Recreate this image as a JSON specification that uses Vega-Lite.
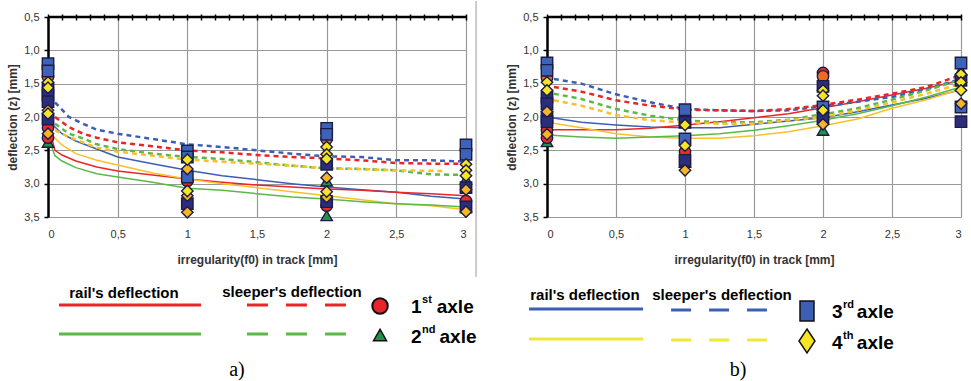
{
"$schema": "https://vega.github.io/schema/vega-lite/v6.json",
"background": "white",
"padding": {"left": 6, "top": 0, "right": 0, "bottom": 0},
"config": {"view": {"stroke": null}, "font": "Liberation Sans"},
"bounds": "flush",
"spacing": 81,
"datasets": {
"lines": [
{"p":"a","t":"rail","ax":"3","x":0,"y":2.05},{"p":"a","t":"rail","ax":"3","x":0.05,"y":2.15},{"p":"a","t":"rail","ax":"3","x":0.1,"y":2.25},{"p":"a","t":"rail","ax":"3","x":0.2,"y":2.36},{"p":"a","t":"rail","ax":"3","x":0.35,"y":2.48},{"p":"a","t":"rail","ax":"3","x":0.5,"y":2.6},{"p":"a","t":"rail","ax":"3","x":0.75,"y":2.7},{"p":"a","t":"rail","ax":"3","x":1,"y":2.8},{"p":"a","t":"rail","ax":"3","x":1.25,"y":2.88},{"p":"a","t":"rail","ax":"3","x":1.5,"y":2.94},{"p":"a","t":"rail","ax":"3","x":1.75,"y":3.0},{"p":"a","t":"rail","ax":"3","x":2,"y":3.05},{"p":"a","t":"rail","ax":"3","x":2.25,"y":3.09},{"p":"a","t":"rail","ax":"3","x":2.5,"y":3.13},{"p":"a","t":"rail","ax":"3","x":2.75,"y":3.19},{"p":"a","t":"rail","ax":"3","x":3,"y":3.23},
{"p":"a","t":"rail","ax":"1","x":0,"y":2.1},{"p":"a","t":"rail","ax":"1","x":0.05,"y":2.5},{"p":"a","t":"rail","ax":"1","x":0.1,"y":2.57},{"p":"a","t":"rail","ax":"1","x":0.2,"y":2.66},{"p":"a","t":"rail","ax":"1","x":0.35,"y":2.75},{"p":"a","t":"rail","ax":"1","x":0.5,"y":2.81},{"p":"a","t":"rail","ax":"1","x":0.75,"y":2.87},{"p":"a","t":"rail","ax":"1","x":1,"y":2.93},{"p":"a","t":"rail","ax":"1","x":1.25,"y":2.98},{"p":"a","t":"rail","ax":"1","x":1.5,"y":3.02},{"p":"a","t":"rail","ax":"1","x":1.75,"y":3.05},{"p":"a","t":"rail","ax":"1","x":2,"y":3.08},{"p":"a","t":"rail","ax":"1","x":2.25,"y":3.1},{"p":"a","t":"rail","ax":"1","x":2.5,"y":3.13},{"p":"a","t":"rail","ax":"1","x":2.75,"y":3.15},{"p":"a","t":"rail","ax":"1","x":3,"y":3.18},
{"p":"a","t":"rail","ax":"4","x":0,"y":2.2},{"p":"a","t":"rail","ax":"4","x":0.05,"y":2.32},{"p":"a","t":"rail","ax":"4","x":0.1,"y":2.42},{"p":"a","t":"rail","ax":"4","x":0.2,"y":2.55},{"p":"a","t":"rail","ax":"4","x":0.35,"y":2.65},{"p":"a","t":"rail","ax":"4","x":0.5,"y":2.72},{"p":"a","t":"rail","ax":"4","x":0.75,"y":2.84},{"p":"a","t":"rail","ax":"4","x":1,"y":2.93},{"p":"a","t":"rail","ax":"4","x":1.25,"y":3.0},{"p":"a","t":"rail","ax":"4","x":1.5,"y":3.06},{"p":"a","t":"rail","ax":"4","x":1.75,"y":3.12},{"p":"a","t":"rail","ax":"4","x":2,"y":3.18},{"p":"a","t":"rail","ax":"4","x":2.25,"y":3.24},{"p":"a","t":"rail","ax":"4","x":2.5,"y":3.3},{"p":"a","t":"rail","ax":"4","x":2.75,"y":3.33},{"p":"a","t":"rail","ax":"4","x":3,"y":3.39},
{"p":"a","t":"rail","ax":"2","x":0,"y":2.3},{"p":"a","t":"rail","ax":"2","x":0.05,"y":2.58},{"p":"a","t":"rail","ax":"2","x":0.1,"y":2.66},{"p":"a","t":"rail","ax":"2","x":0.2,"y":2.76},{"p":"a","t":"rail","ax":"2","x":0.35,"y":2.85},{"p":"a","t":"rail","ax":"2","x":0.5,"y":2.9},{"p":"a","t":"rail","ax":"2","x":0.75,"y":2.98},{"p":"a","t":"rail","ax":"2","x":1,"y":3.07},{"p":"a","t":"rail","ax":"2","x":1.25,"y":3.1},{"p":"a","t":"rail","ax":"2","x":1.5,"y":3.15},{"p":"a","t":"rail","ax":"2","x":1.75,"y":3.2},{"p":"a","t":"rail","ax":"2","x":2,"y":3.23},{"p":"a","t":"rail","ax":"2","x":2.25,"y":3.27},{"p":"a","t":"rail","ax":"2","x":2.5,"y":3.3},{"p":"a","t":"rail","ax":"2","x":2.75,"y":3.32},{"p":"a","t":"rail","ax":"2","x":3,"y":3.35},
{"p":"a","t":"sleeper","ax":"3","x":0.05,"y":1.78},{"p":"a","t":"sleeper","ax":"3","x":0.15,"y":2.0},{"p":"a","t":"sleeper","ax":"3","x":0.25,"y":2.1},{"p":"a","t":"sleeper","ax":"3","x":0.35,"y":2.19},{"p":"a","t":"sleeper","ax":"3","x":0.5,"y":2.25},{"p":"a","t":"sleeper","ax":"3","x":0.75,"y":2.33},{"p":"a","t":"sleeper","ax":"3","x":1,"y":2.41},{"p":"a","t":"sleeper","ax":"3","x":1.25,"y":2.45},{"p":"a","t":"sleeper","ax":"3","x":1.5,"y":2.5},{"p":"a","t":"sleeper","ax":"3","x":1.75,"y":2.55},{"p":"a","t":"sleeper","ax":"3","x":2,"y":2.59},{"p":"a","t":"sleeper","ax":"3","x":2.25,"y":2.6},{"p":"a","t":"sleeper","ax":"3","x":2.5,"y":2.65},{"p":"a","t":"sleeper","ax":"3","x":2.75,"y":2.65},{"p":"a","t":"sleeper","ax":"3","x":3,"y":2.67},
{"p":"a","t":"sleeper","ax":"1","x":0.05,"y":2.0},{"p":"a","t":"sleeper","ax":"1","x":0.15,"y":2.15},{"p":"a","t":"sleeper","ax":"1","x":0.25,"y":2.25},{"p":"a","t":"sleeper","ax":"1","x":0.35,"y":2.31},{"p":"a","t":"sleeper","ax":"1","x":0.5,"y":2.38},{"p":"a","t":"sleeper","ax":"1","x":0.75,"y":2.44},{"p":"a","t":"sleeper","ax":"1","x":1,"y":2.5},{"p":"a","t":"sleeper","ax":"1","x":1.25,"y":2.53},{"p":"a","t":"sleeper","ax":"1","x":1.5,"y":2.57},{"p":"a","t":"sleeper","ax":"1","x":1.75,"y":2.6},{"p":"a","t":"sleeper","ax":"1","x":2,"y":2.62},{"p":"a","t":"sleeper","ax":"1","x":2.25,"y":2.65},{"p":"a","t":"sleeper","ax":"1","x":2.5,"y":2.69},{"p":"a","t":"sleeper","ax":"1","x":2.75,"y":2.7},{"p":"a","t":"sleeper","ax":"1","x":3,"y":2.7},
{"p":"a","t":"sleeper","ax":"2","x":0.05,"y":2.1},{"p":"a","t":"sleeper","ax":"2","x":0.15,"y":2.25},{"p":"a","t":"sleeper","ax":"2","x":0.25,"y":2.32},{"p":"a","t":"sleeper","ax":"2","x":0.35,"y":2.41},{"p":"a","t":"sleeper","ax":"2","x":0.5,"y":2.48},{"p":"a","t":"sleeper","ax":"2","x":0.75,"y":2.55},{"p":"a","t":"sleeper","ax":"2","x":1,"y":2.6},{"p":"a","t":"sleeper","ax":"2","x":1.25,"y":2.63},{"p":"a","t":"sleeper","ax":"2","x":1.5,"y":2.68},{"p":"a","t":"sleeper","ax":"2","x":1.75,"y":2.73},{"p":"a","t":"sleeper","ax":"2","x":2,"y":2.77},{"p":"a","t":"sleeper","ax":"2","x":2.25,"y":2.78},{"p":"a","t":"sleeper","ax":"2","x":2.5,"y":2.8},{"p":"a","t":"sleeper","ax":"2","x":2.75,"y":2.86},{"p":"a","t":"sleeper","ax":"2","x":3,"y":2.87},
{"p":"a","t":"sleeper","ax":"4","x":0.05,"y":2.2},{"p":"a","t":"sleeper","ax":"4","x":0.15,"y":2.3},{"p":"a","t":"sleeper","ax":"4","x":0.25,"y":2.38},{"p":"a","t":"sleeper","ax":"4","x":0.35,"y":2.46},{"p":"a","t":"sleeper","ax":"4","x":0.5,"y":2.52},{"p":"a","t":"sleeper","ax":"4","x":0.75,"y":2.58},{"p":"a","t":"sleeper","ax":"4","x":1,"y":2.64},{"p":"a","t":"sleeper","ax":"4","x":1.25,"y":2.67},{"p":"a","t":"sleeper","ax":"4","x":1.5,"y":2.7},{"p":"a","t":"sleeper","ax":"4","x":1.75,"y":2.73},{"p":"a","t":"sleeper","ax":"4","x":2,"y":2.77},{"p":"a","t":"sleeper","ax":"4","x":2.25,"y":2.78},{"p":"a","t":"sleeper","ax":"4","x":2.5,"y":2.8},{"p":"a","t":"sleeper","ax":"4","x":2.85,"y":2.81},
{"p":"b","t":"rail","ax":"3","x":0,"y":2.0},{"p":"b","t":"rail","ax":"3","x":0.25,"y":2.08},{"p":"b","t":"rail","ax":"3","x":0.5,"y":2.12},{"p":"b","t":"rail","ax":"3","x":0.75,"y":2.15},{"p":"b","t":"rail","ax":"3","x":1,"y":2.16},{"p":"b","t":"rail","ax":"3","x":1.25,"y":2.16},{"p":"b","t":"rail","ax":"3","x":1.5,"y":2.11},{"p":"b","t":"rail","ax":"3","x":1.75,"y":2.06},{"p":"b","t":"rail","ax":"3","x":2,"y":2.01},{"p":"b","t":"rail","ax":"3","x":2.25,"y":1.92},{"p":"b","t":"rail","ax":"3","x":2.5,"y":1.82},{"p":"b","t":"rail","ax":"3","x":2.75,"y":1.72},{"p":"b","t":"rail","ax":"3","x":3,"y":1.59},
{"p":"b","t":"rail","ax":"1","x":0,"y":2.19},{"p":"b","t":"rail","ax":"1","x":0.25,"y":2.19},{"p":"b","t":"rail","ax":"1","x":0.5,"y":2.19},{"p":"b","t":"rail","ax":"1","x":0.75,"y":2.17},{"p":"b","t":"rail","ax":"1","x":1,"y":2.12},{"p":"b","t":"rail","ax":"1","x":1.25,"y":2.07},{"p":"b","t":"rail","ax":"1","x":1.5,"y":2.01},{"p":"b","t":"rail","ax":"1","x":1.75,"y":1.95},{"p":"b","t":"rail","ax":"1","x":2,"y":1.86},{"p":"b","t":"rail","ax":"1","x":2.25,"y":1.77},{"p":"b","t":"rail","ax":"1","x":2.5,"y":1.67},{"p":"b","t":"rail","ax":"1","x":2.75,"y":1.57},{"p":"b","t":"rail","ax":"1","x":3,"y":1.45},
{"p":"b","t":"rail","ax":"4","x":0,"y":2.08},{"p":"b","t":"rail","ax":"4","x":0.25,"y":2.16},{"p":"b","t":"rail","ax":"4","x":0.5,"y":2.25},{"p":"b","t":"rail","ax":"4","x":0.75,"y":2.3},{"p":"b","t":"rail","ax":"4","x":1,"y":2.32},{"p":"b","t":"rail","ax":"4","x":1.25,"y":2.32},{"p":"b","t":"rail","ax":"4","x":1.5,"y":2.28},{"p":"b","t":"rail","ax":"4","x":1.75,"y":2.22},{"p":"b","t":"rail","ax":"4","x":2,"y":2.13},{"p":"b","t":"rail","ax":"4","x":2.25,"y":2.03},{"p":"b","t":"rail","ax":"4","x":2.5,"y":1.87},{"p":"b","t":"rail","ax":"4","x":2.75,"y":1.74},{"p":"b","t":"rail","ax":"4","x":3,"y":1.58},
{"p":"b","t":"rail","ax":"2","x":0,"y":2.27},{"p":"b","t":"rail","ax":"2","x":0.25,"y":2.3},{"p":"b","t":"rail","ax":"2","x":0.5,"y":2.32},{"p":"b","t":"rail","ax":"2","x":0.75,"y":2.3},{"p":"b","t":"rail","ax":"2","x":1,"y":2.28},{"p":"b","t":"rail","ax":"2","x":1.25,"y":2.25},{"p":"b","t":"rail","ax":"2","x":1.5,"y":2.2},{"p":"b","t":"rail","ax":"2","x":1.75,"y":2.13},{"p":"b","t":"rail","ax":"2","x":2,"y":2.05},{"p":"b","t":"rail","ax":"2","x":2.25,"y":1.95},{"p":"b","t":"rail","ax":"2","x":2.5,"y":1.83},{"p":"b","t":"rail","ax":"2","x":2.75,"y":1.7},{"p":"b","t":"rail","ax":"2","x":3,"y":1.55},
{"p":"b","t":"sleeper","ax":"3","x":0.05,"y":1.43},{"p":"b","t":"sleeper","ax":"3","x":0.25,"y":1.5},{"p":"b","t":"sleeper","ax":"3","x":0.5,"y":1.66},{"p":"b","t":"sleeper","ax":"3","x":0.75,"y":1.78},{"p":"b","t":"sleeper","ax":"3","x":1,"y":1.88},{"p":"b","t":"sleeper","ax":"3","x":1.25,"y":1.9},{"p":"b","t":"sleeper","ax":"3","x":1.5,"y":1.91},{"p":"b","t":"sleeper","ax":"3","x":1.75,"y":1.9},{"p":"b","t":"sleeper","ax":"3","x":2,"y":1.84},{"p":"b","t":"sleeper","ax":"3","x":2.25,"y":1.77},{"p":"b","t":"sleeper","ax":"3","x":2.5,"y":1.7},{"p":"b","t":"sleeper","ax":"3","x":2.75,"y":1.58},{"p":"b","t":"sleeper","ax":"3","x":3,"y":1.43},
{"p":"b","t":"sleeper","ax":"1","x":0.05,"y":1.55},{"p":"b","t":"sleeper","ax":"1","x":0.25,"y":1.62},{"p":"b","t":"sleeper","ax":"1","x":0.5,"y":1.75},{"p":"b","t":"sleeper","ax":"1","x":0.75,"y":1.83},{"p":"b","t":"sleeper","ax":"1","x":1,"y":1.89},{"p":"b","t":"sleeper","ax":"1","x":1.25,"y":1.9},{"p":"b","t":"sleeper","ax":"1","x":1.5,"y":1.91},{"p":"b","t":"sleeper","ax":"1","x":1.75,"y":1.88},{"p":"b","t":"sleeper","ax":"1","x":2,"y":1.82},{"p":"b","t":"sleeper","ax":"1","x":2.25,"y":1.74},{"p":"b","t":"sleeper","ax":"1","x":2.5,"y":1.65},{"p":"b","t":"sleeper","ax":"1","x":2.75,"y":1.55},{"p":"b","t":"sleeper","ax":"1","x":3,"y":1.37},
{"p":"b","t":"sleeper","ax":"2","x":0.05,"y":1.65},{"p":"b","t":"sleeper","ax":"2","x":0.25,"y":1.73},{"p":"b","t":"sleeper","ax":"2","x":0.5,"y":1.88},{"p":"b","t":"sleeper","ax":"2","x":0.75,"y":1.98},{"p":"b","t":"sleeper","ax":"2","x":1,"y":2.05},{"p":"b","t":"sleeper","ax":"2","x":1.25,"y":2.08},{"p":"b","t":"sleeper","ax":"2","x":1.5,"y":2.08},{"p":"b","t":"sleeper","ax":"2","x":1.75,"y":2.04},{"p":"b","t":"sleeper","ax":"2","x":2,"y":1.96},{"p":"b","t":"sleeper","ax":"2","x":2.25,"y":1.87},{"p":"b","t":"sleeper","ax":"2","x":2.5,"y":1.74},{"p":"b","t":"sleeper","ax":"2","x":2.75,"y":1.6},{"p":"b","t":"sleeper","ax":"2","x":3,"y":1.44},
{"p":"b","t":"sleeper","ax":"4","x":0.05,"y":1.75},{"p":"b","t":"sleeper","ax":"4","x":0.25,"y":1.83},{"p":"b","t":"sleeper","ax":"4","x":0.5,"y":1.97},{"p":"b","t":"sleeper","ax":"4","x":0.75,"y":2.05},{"p":"b","t":"sleeper","ax":"4","x":1,"y":2.08},{"p":"b","t":"sleeper","ax":"4","x":1.25,"y":2.1},{"p":"b","t":"sleeper","ax":"4","x":1.5,"y":2.1},{"p":"b","t":"sleeper","ax":"4","x":1.75,"y":2.05},{"p":"b","t":"sleeper","ax":"4","x":2,"y":2.0},{"p":"b","t":"sleeper","ax":"4","x":2.25,"y":1.9},{"p":"b","t":"sleeper","ax":"4","x":2.5,"y":1.78},{"p":"b","t":"sleeper","ax":"4","x":2.75,"y":1.65},{"p":"b","t":"sleeper","ax":"4","x":3,"y":1.5}
],
"markers": [
{"p":"a","k":"GT","x":0,"y":2.38},{"p":"a","k":"RC","x":0,"y":2.31},{"p":"a","k":"RC","x":0,"y":2.16},{"p":"a","k":"OC","x":0,"y":1.4},{"p":"a","k":"SQ","x":0,"y":1.2},{"p":"a","k":"SQ","x":0,"y":1.31},{"p":"a","k":"NS","x":0,"y":1.57},{"p":"a","k":"NS","x":0,"y":1.67},{"p":"a","k":"NS","x":0,"y":1.77},{"p":"a","k":"NS","x":0,"y":2.03},{"p":"a","k":"OD","x":0,"y":1.9},{"p":"a","k":"OD","x":0,"y":2.25},{"p":"a","k":"YD","x":0,"y":1.48},{"p":"a","k":"YD","x":0,"y":1.56},{"p":"a","k":"YD","x":0,"y":1.95},
{"p":"a","k":"RC","x":1,"y":2.96},{"p":"a","k":"SQ","x":1,"y":2.51},{"p":"a","k":"SQ","x":1,"y":2.6},{"p":"a","k":"SQ","x":1,"y":2.9},{"p":"a","k":"NS","x":1,"y":3.3},{"p":"a","k":"OD","x":1,"y":2.78},{"p":"a","k":"OD","x":1,"y":3.18},{"p":"a","k":"OD","x":1,"y":3.43},{"p":"a","k":"YD","x":1,"y":2.64},{"p":"a","k":"YD","x":1,"y":3.11},
{"p":"a","k":"GT","x":2,"y":3.48},{"p":"a","k":"GT","x":2,"y":2.96},{"p":"a","k":"RC","x":2,"y":3.33},{"p":"a","k":"OC","x":2,"y":2.33},{"p":"a","k":"SQ","x":2,"y":2.17},{"p":"a","k":"SQ","x":2,"y":2.26},{"p":"a","k":"NS","x":2,"y":2.71},{"p":"a","k":"NS","x":2,"y":3.27},{"p":"a","k":"OD","x":2,"y":2.91},{"p":"a","k":"OD","x":2,"y":3.2},{"p":"a","k":"YD","x":2,"y":2.45},{"p":"a","k":"YD","x":2,"y":2.56},{"p":"a","k":"YD","x":2,"y":2.63},{"p":"a","k":"YD","x":2,"y":3.12},
{"p":"a","k":"GT","x":3,"y":2.93},{"p":"a","k":"RC","x":3,"y":3.26},{"p":"a","k":"SQ","x":3,"y":2.42},{"p":"a","k":"SQ","x":3,"y":2.56},{"p":"a","k":"NS","x":3,"y":3.06},{"p":"a","k":"NS","x":3,"y":3.35},{"p":"a","k":"OD","x":3,"y":3.09},{"p":"a","k":"OD","x":3,"y":3.42},{"p":"a","k":"YD","x":3,"y":2.71},{"p":"a","k":"YD","x":3,"y":2.8},{"p":"a","k":"YD","x":3,"y":2.88},
{"p":"b","k":"GT","x":0,"y":2.37},{"p":"b","k":"RC","x":0,"y":2.31},{"p":"b","k":"RC","x":0,"y":2.2},{"p":"b","k":"OC","x":0,"y":1.41},{"p":"b","k":"SQ","x":0,"y":1.19},{"p":"b","k":"SQ","x":0,"y":1.3},{"p":"b","k":"NS","x":0,"y":1.7},{"p":"b","k":"NS","x":0,"y":1.8},{"p":"b","k":"NS","x":0,"y":2.0},{"p":"b","k":"NS","x":0,"y":2.07},{"p":"b","k":"OD","x":0,"y":1.92},{"p":"b","k":"OD","x":0,"y":2.26},{"p":"b","k":"YD","x":0,"y":1.48},{"p":"b","k":"YD","x":0,"y":1.6},
{"p":"b","k":"GT","x":1,"y":2.68},{"p":"b","k":"RC","x":1,"y":2.52},{"p":"b","k":"OC","x":1,"y":2.0},{"p":"b","k":"SQ","x":1,"y":1.89},{"p":"b","k":"SQ","x":1,"y":2.33},{"p":"b","k":"NS","x":1,"y":2.08},{"p":"b","k":"NS","x":1,"y":2.65},{"p":"b","k":"OD","x":1,"y":2.8},{"p":"b","k":"YD","x":1,"y":2.12},{"p":"b","k":"YD","x":1,"y":2.43},
{"p":"b","k":"GT","x":2,"y":2.2},{"p":"b","k":"RC","x":2,"y":1.34},{"p":"b","k":"OC","x":2,"y":1.39},{"p":"b","k":"NS","x":2,"y":1.54},{"p":"b","k":"NS","x":2,"y":2.02},{"p":"b","k":"SQ","x":2,"y":1.85},{"p":"b","k":"OD","x":2,"y":2.11},{"p":"b","k":"YD","x":2,"y":1.6},{"p":"b","k":"YD","x":2,"y":1.68},{"p":"b","k":"YD","x":2,"y":1.9},
{"p":"b","k":"GT","x":3,"y":1.3},{"p":"b","k":"SQ","x":3,"y":1.19},{"p":"b","k":"NS","x":3,"y":1.45},{"p":"b","k":"SQ","x":3,"y":1.85},{"p":"b","k":"NS","x":3,"y":2.07},{"p":"b","k":"OD","x":3,"y":1.8},{"p":"b","k":"YD","x":3,"y":1.36},{"p":"b","k":"YD","x":3,"y":1.48},{"p":"b","k":"YD","x":3,"y":1.6}
]
},
"hconcat": [
{
"width": 418, "height": 200,
"resolve": {"scale": {"x": "shared", "y": "shared"}, "axis": {"x": "independent", "y": "independent"}},
"layer": [
{"data": {"name": "lines"}, "transform": [{"filter": "datum.p == 'a' && datum.t == 'rail'"}],
 "mark": {"type": "line", "strokeWidth": 1.5},
 "encoding": {
  "x": {"field": "x", "type": "quantitative", "scale": {"domain": [0, 3], "nice": false, "zero": false},
   "axis": {"orient": "bottom", "values": [0, 0.5, 1, 1.5, 2, 2.5, 3], "labelExpr": "replace(toString(datum.value), '.', ',')", "grid": true, "gridColor": "#999999", "gridWidth": 1.2, "domain": false, "ticks": false, "tickSize": 0, "labelPadding": 11, "labelFontSize": 11, "labelColor": "#333333", "title": "irregularity(f0) in track [mm]", "titleFontSize": 12, "titleFontWeight": "bold", "titleColor": "#333333", "titlePadding": 15}},
  "y": {"field": "y", "type": "quantitative", "scale": {"domain": [0.5, 3.5], "reverse": true, "nice": false, "zero": false},
   "axis": {"orient": "left", "values": [0.5, 1, 1.5, 2, 2.5, 3, 3.5], "labelExpr": "replace(format(datum.value, '.1f'), '.', ',')", "grid": true, "gridColor": "#999999", "gridWidth": 1.2, "domain": true, "domainColor": "#000000", "domainWidth": 2.5, "ticks": true, "tickColor": "#000000", "tickWidth": 1.5, "tickSize": 4, "labelPadding": 5, "labelFontSize": 11, "labelColor": "#333333", "title": "deflection (z) [mm]", "titleFontSize": 12, "titleFontWeight": "bold", "titleColor": "#333333", "titlePadding": 4}},
  "color": {"field": "ax", "type": "nominal", "scale": {"domain": ["1", "2", "3", "4"], "range": ["#e8262a", "#5bb947", "#3b5fb5", "#f8c12a"]}, "legend": null}
 }},
{"data": {"name": "lines"}, "transform": [{"filter": "datum.p == 'a' && datum.t == 'sleeper'"}],
 "mark": {"type": "line", "strokeWidth": 2.5, "strokeDash": [5, 4]},
 "encoding": {
  "x": {"field": "x", "type": "quantitative", "axis": {"orient": "top", "values": [0,0.1,0.2,0.3,0.4,0.5,0.6,0.7,0.8,0.9,1,1.1,1.2,1.3,1.4,1.5,1.6,1.7,1.8,1.9,2,2.1,2.2,2.3,2.4,2.5,2.6,2.7,2.8,2.9,3], "labels": false, "domain": false, "grid": false, "ticks": true, "tickColor": "#000000", "tickWidth": 1.5, "tickSize": 6, "offset": -3, "title": null}},
  "y": {"field": "y", "type": "quantitative", "axis": null},
  "color": {"field": "ax", "type": "nominal", "legend": null}
 }},
{"data": {"values": [{}]}, "mark": {"type": "rule", "color": "#000000", "strokeWidth": 2.5}, "encoding": {"y": {"datum": 0.5, "axis": null}}},
{"data": {"name": "markers"}, "transform": [{"filter": "datum.p == 'a'"}],
 "mark": {"type": "point", "filled": true, "stroke": "#1c1c44", "strokeWidth": 1.4, "size": 130, "opacity": 1},
 "encoding": {
  "x": {"field": "x", "type": "quantitative", "axis": null},
  "y": {"field": "y", "type": "quantitative", "axis": null},
  "shape": {"field": "k", "type": "nominal", "scale": {"domain": ["SQ", "NS", "OC", "RC", "YD", "OD", "GT"], "range": ["square", "square", "circle", "circle", "diamond", "diamond", "triangle-up"]}, "legend": null},
  "fill": {"field": "k", "type": "nominal", "scale": {"domain": ["SQ", "NS", "OC", "RC", "YD", "OD", "GT"], "range": ["#3d62b8", "#2b2d7c", "#f26a21", "#e62d2a", "#f6e524", "#f7b423", "#22914a"]}, "legend": null}
 }},
{"data": {"values": [{}]}, "mark": {"type": "rule", "color": "#999999", "strokeWidth": 1}, "encoding": {"x": {"datum": 3.072, "axis": null}, "y": {"datum": 0.26, "axis": null}, "y2": {"datum": 4.4}}},
{"data": {"values": [{}]}, "mark": {"type": "text", "fontWeight": "bold", "fontSize": 15, "align": "center", "baseline": "middle", "color": "#000000"}, "encoding": {"x": {"datum": 0.545, "axis": null}, "y": {"datum": 4.64, "axis": null}, "text": {"value": "rail's deflection"}}},
{"data": {"values": [{}]}, "mark": {"type": "text", "fontWeight": "bold", "fontSize": 15, "align": "center", "baseline": "middle", "color": "#000000"}, "encoding": {"x": {"datum": 1.751, "axis": null}, "y": {"datum": 4.625, "axis": null}, "text": {"value": "sleeper's deflection"}}},
{"data": {"values": [{}]}, "mark": {"type": "rule", "color": "#e8262a", "strokeWidth": 3}, "encoding": {"x": {"datum": 0.079, "axis": null}, "x2": {"datum": 1.098}, "y": {"datum": 4.82, "axis": null}}},
{"data": {"values": [{}]}, "mark": {"type": "rule", "color": "#5bb947", "strokeWidth": 3}, "encoding": {"x": {"datum": 0.079, "axis": null}, "x2": {"datum": 1.098}, "y": {"datum": 5.255, "axis": null}}},
{"data": {"values": [{}]}, "mark": {"type": "rule", "color": "#e8262a", "strokeWidth": 3, "strokeDash": [21, 18]}, "encoding": {"x": {"datum": 1.428, "axis": null}, "x2": {"datum": 2.139}, "y": {"datum": 4.82, "axis": null}}},
{"data": {"values": [{}]}, "mark": {"type": "rule", "color": "#5bb947", "strokeWidth": 3, "strokeDash": [21, 18]}, "encoding": {"x": {"datum": 1.428, "axis": null}, "x2": {"datum": 2.139}, "y": {"datum": 5.255, "axis": null}}},
{"data": {"values": [{}]}, "mark": {"type": "point", "shape": "circle", "filled": true, "fill": "#e8262a", "stroke": "#111111", "strokeWidth": 2, "size": 240, "opacity": 1}, "encoding": {"x": {"datum": 2.383, "axis": null}, "y": {"datum": 4.835, "axis": null}}},
{"data": {"values": [{}]}, "mark": {"type": "point", "shape": "triangle-up", "filled": true, "fill": "#22914a", "stroke": "#111111", "strokeWidth": 1.5, "size": 170, "opacity": 1}, "encoding": {"x": {"datum": 2.383, "axis": null}, "y": {"datum": 5.27, "axis": null}}},
{"data": {"values": [{}]}, "mark": {"type": "text", "fontWeight": "bold", "fontSize": 19, "align": "left", "baseline": "middle", "color": "#000000"}, "encoding": {"x": {"datum": 2.605, "axis": null}, "y": {"datum": 4.85, "axis": null}, "text": {"value": "1"}}},
{"data": {"values": [{}]}, "mark": {"type": "text", "fontWeight": "bold", "fontSize": 11, "align": "left", "baseline": "middle", "color": "#000000"}, "encoding": {"x": {"datum": 2.685, "axis": null}, "y": {"datum": 4.745, "axis": null}, "text": {"value": "st"}}},
{"data": {"values": [{}]}, "mark": {"type": "text", "fontWeight": "bold", "fontSize": 19, "align": "left", "baseline": "middle", "color": "#000000"}, "encoding": {"x": {"datum": 2.79, "axis": null}, "y": {"datum": 4.85, "axis": null}, "text": {"value": "axle"}}},
{"data": {"values": [{}]}, "mark": {"type": "text", "fontWeight": "bold", "fontSize": 19, "align": "left", "baseline": "middle", "color": "#000000"}, "encoding": {"x": {"datum": 2.605, "axis": null}, "y": {"datum": 5.3, "axis": null}, "text": {"value": "2"}}},
{"data": {"values": [{}]}, "mark": {"type": "text", "fontWeight": "bold", "fontSize": 11, "align": "left", "baseline": "middle", "color": "#000000"}, "encoding": {"x": {"datum": 2.685, "axis": null}, "y": {"datum": 5.195, "axis": null}, "text": {"value": "nd"}}},
{"data": {"values": [{}]}, "mark": {"type": "text", "fontWeight": "bold", "fontSize": 19, "align": "left", "baseline": "middle", "color": "#000000"}, "encoding": {"x": {"datum": 2.81, "axis": null}, "y": {"datum": 5.3, "axis": null}, "text": {"value": "axle"}}},
{"data": {"values": [{}]}, "mark": {"type": "text", "font": "Liberation Serif", "fontSize": 20, "align": "center", "baseline": "middle", "color": "#000000"}, "encoding": {"x": {"datum": 1.356, "axis": null}, "y": {"datum": 5.8, "axis": null}, "text": {"value": "a)"}}}
]
},
{
"width": 414, "height": 200,
"resolve": {"scale": {"x": "shared", "y": "shared"}, "axis": {"x": "independent", "y": "independent"}},
"layer": [
{"data": {"name": "lines"}, "transform": [{"filter": "datum.p == 'b' && datum.t == 'rail'"}],
 "mark": {"type": "line", "strokeWidth": 1.5},
 "encoding": {
  "x": {"field": "x", "type": "quantitative", "scale": {"domain": [0, 3], "nice": false, "zero": false},
   "axis": {"orient": "bottom", "values": [0, 0.5, 1, 1.5, 2, 2.5, 3], "labelExpr": "replace(toString(datum.value), '.', ',')", "grid": true, "gridColor": "#999999", "gridWidth": 1.2, "domain": false, "ticks": false, "tickSize": 0, "labelPadding": 11, "labelFontSize": 11, "labelColor": "#333333", "title": "irregularity(f0) in track [mm]", "titleFontSize": 12, "titleFontWeight": "bold", "titleColor": "#333333", "titlePadding": 15}},
  "y": {"field": "y", "type": "quantitative", "scale": {"domain": [0.5, 3.5], "reverse": true, "nice": false, "zero": false},
   "axis": {"orient": "left", "values": [0.5, 1, 1.5, 2, 2.5, 3, 3.5], "labelExpr": "replace(format(datum.value, '.1f'), '.', ',')", "grid": true, "gridColor": "#999999", "gridWidth": 1.2, "domain": true, "domainColor": "#000000", "domainWidth": 2.5, "ticks": true, "tickColor": "#000000", "tickWidth": 1.5, "tickSize": 4, "labelPadding": 5, "labelFontSize": 11, "labelColor": "#333333", "title": "deflection (z) [mm]", "titleFontSize": 12, "titleFontWeight": "bold", "titleColor": "#333333", "titlePadding": 4}},
  "color": {"field": "ax", "type": "nominal", "scale": {"domain": ["1", "2", "3", "4"], "range": ["#e8262a", "#5bb947", "#3b5fb5", "#f8c12a"]}, "legend": null}
 }},
{"data": {"name": "lines"}, "transform": [{"filter": "datum.p == 'b' && datum.t == 'sleeper'"}],
 "mark": {"type": "line", "strokeWidth": 2.5, "strokeDash": [5, 4]},
 "encoding": {
  "x": {"field": "x", "type": "quantitative", "axis": {"orient": "top", "values": [0,0.1,0.2,0.3,0.4,0.5,0.6,0.7,0.8,0.9,1,1.1,1.2,1.3,1.4,1.5,1.6,1.7,1.8,1.9,2,2.1,2.2,2.3,2.4,2.5,2.6,2.7,2.8,2.9,3], "labels": false, "domain": false, "grid": false, "ticks": true, "tickColor": "#000000", "tickWidth": 1.5, "tickSize": 6, "offset": -3, "title": null}},
  "y": {"field": "y", "type": "quantitative", "axis": null},
  "color": {"field": "ax", "type": "nominal", "legend": null}
 }},
{"data": {"values": [{}]}, "mark": {"type": "rule", "color": "#000000", "strokeWidth": 2.5}, "encoding": {"y": {"datum": 0.5, "axis": null}}},
{"data": {"name": "markers"}, "transform": [{"filter": "datum.p == 'b'"}],
 "mark": {"type": "point", "filled": true, "stroke": "#1c1c44", "strokeWidth": 1.4, "size": 130, "opacity": 1},
 "encoding": {
  "x": {"field": "x", "type": "quantitative", "axis": null},
  "y": {"field": "y", "type": "quantitative", "axis": null},
  "shape": {"field": "k", "type": "nominal", "scale": {"domain": ["SQ", "NS", "OC", "RC", "YD", "OD", "GT"], "range": ["square", "square", "circle", "circle", "diamond", "diamond", "triangle-up"]}, "legend": null},
  "fill": {"field": "k", "type": "nominal", "scale": {"domain": ["SQ", "NS", "OC", "RC", "YD", "OD", "GT"], "range": ["#3d62b8", "#2b2d7c", "#f26a21", "#e62d2a", "#f6e524", "#f7b423", "#22914a"]}, "legend": null}
 }},
{"data": {"values": [{}]}, "mark": {"type": "text", "fontWeight": "bold", "fontSize": 15, "align": "center", "baseline": "middle", "color": "#000000"}, "encoding": {"x": {"datum": 0.275, "axis": null}, "y": {"datum": 4.67, "axis": null}, "text": {"value": "rail's deflection"}}},
{"data": {"values": [{}]}, "mark": {"type": "text", "fontWeight": "bold", "fontSize": 15, "align": "center", "baseline": "middle", "color": "#000000"}, "encoding": {"x": {"datum": 1.268, "axis": null}, "y": {"datum": 4.67, "axis": null}, "text": {"value": "sleeper's deflection"}}},
{"data": {"values": [{}]}, "mark": {"type": "rule", "color": "#3b5fb5", "strokeWidth": 3}, "encoding": {"x": {"datum": -0.13, "axis": null}, "x2": {"datum": 0.696}, "y": {"datum": 4.88, "axis": null}}},
{"data": {"values": [{}]}, "mark": {"type": "rule", "color": "#ede83a", "strokeWidth": 3}, "encoding": {"x": {"datum": -0.13, "axis": null}, "x2": {"datum": 0.696}, "y": {"datum": 5.33, "axis": null}}},
{"data": {"values": [{}]}, "mark": {"type": "rule", "color": "#3b5fb5", "strokeWidth": 3, "strokeDash": [20, 18]}, "encoding": {"x": {"datum": 0.899, "axis": null}, "x2": {"datum": 1.594}, "y": {"datum": 4.895, "axis": null}}},
{"data": {"values": [{}]}, "mark": {"type": "rule", "color": "#ede83a", "strokeWidth": 3, "strokeDash": [20, 18]}, "encoding": {"x": {"datum": 0.899, "axis": null}, "x2": {"datum": 1.594}, "y": {"datum": 5.345, "axis": null}}},
{"data": {"values": [{}]}, "mark": {"type": "point", "shape": "M-0.7,-1H0.7V1H-0.7Z", "filled": true, "fill": "#3b5fb5", "stroke": "#111111", "strokeWidth": 1.5, "size": 400, "opacity": 1}, "encoding": {"x": {"datum": 1.884, "axis": null}, "y": {"datum": 4.91, "axis": null}}},
{"data": {"values": [{}]}, "mark": {"type": "point", "shape": "M0,-1.2L0.8,0L0,1.2L-0.8,0Z", "filled": true, "fill": "#f6e524", "stroke": "#111111", "strokeWidth": 1.5, "size": 400, "opacity": 1}, "encoding": {"x": {"datum": 1.884, "axis": null}, "y": {"datum": 5.36, "axis": null}}},
{"data": {"values": [{}]}, "mark": {"type": "text", "fontWeight": "bold", "fontSize": 19, "align": "left", "baseline": "middle", "color": "#000000"}, "encoding": {"x": {"datum": 2.065, "axis": null}, "y": {"datum": 4.925, "axis": null}, "text": {"value": "3"}}},
{"data": {"values": [{}]}, "mark": {"type": "text", "fontWeight": "bold", "fontSize": 11, "align": "left", "baseline": "middle", "color": "#000000"}, "encoding": {"x": {"datum": 2.145, "axis": null}, "y": {"datum": 4.82, "axis": null}, "text": {"value": "rd"}}},
{"data": {"values": [{}]}, "mark": {"type": "text", "fontWeight": "bold", "fontSize": 19, "align": "left", "baseline": "middle", "color": "#000000"}, "encoding": {"x": {"datum": 2.245, "axis": null}, "y": {"datum": 4.925, "axis": null}, "text": {"value": "axle"}}},
{"data": {"values": [{}]}, "mark": {"type": "text", "fontWeight": "bold", "fontSize": 19, "align": "left", "baseline": "middle", "color": "#000000"}, "encoding": {"x": {"datum": 2.065, "axis": null}, "y": {"datum": 5.39, "axis": null}, "text": {"value": "4"}}},
{"data": {"values": [{}]}, "mark": {"type": "text", "fontWeight": "bold", "fontSize": 11, "align": "left", "baseline": "middle", "color": "#000000"}, "encoding": {"x": {"datum": 2.145, "axis": null}, "y": {"datum": 5.285, "axis": null}, "text": {"value": "th"}}},
{"data": {"values": [{}]}, "mark": {"type": "text", "fontWeight": "bold", "fontSize": 19, "align": "left", "baseline": "middle", "color": "#000000"}, "encoding": {"x": {"datum": 2.245, "axis": null}, "y": {"datum": 5.39, "axis": null}, "text": {"value": "axle"}}},
{"data": {"values": [{}]}, "mark": {"type": "text", "font": "Liberation Serif", "fontSize": 20, "align": "center", "baseline": "middle", "color": "#000000"}, "encoding": {"x": {"datum": 1.384, "axis": null}, "y": {"datum": 5.8, "axis": null}, "text": {"value": "b)"}}}
]
}
]
}
